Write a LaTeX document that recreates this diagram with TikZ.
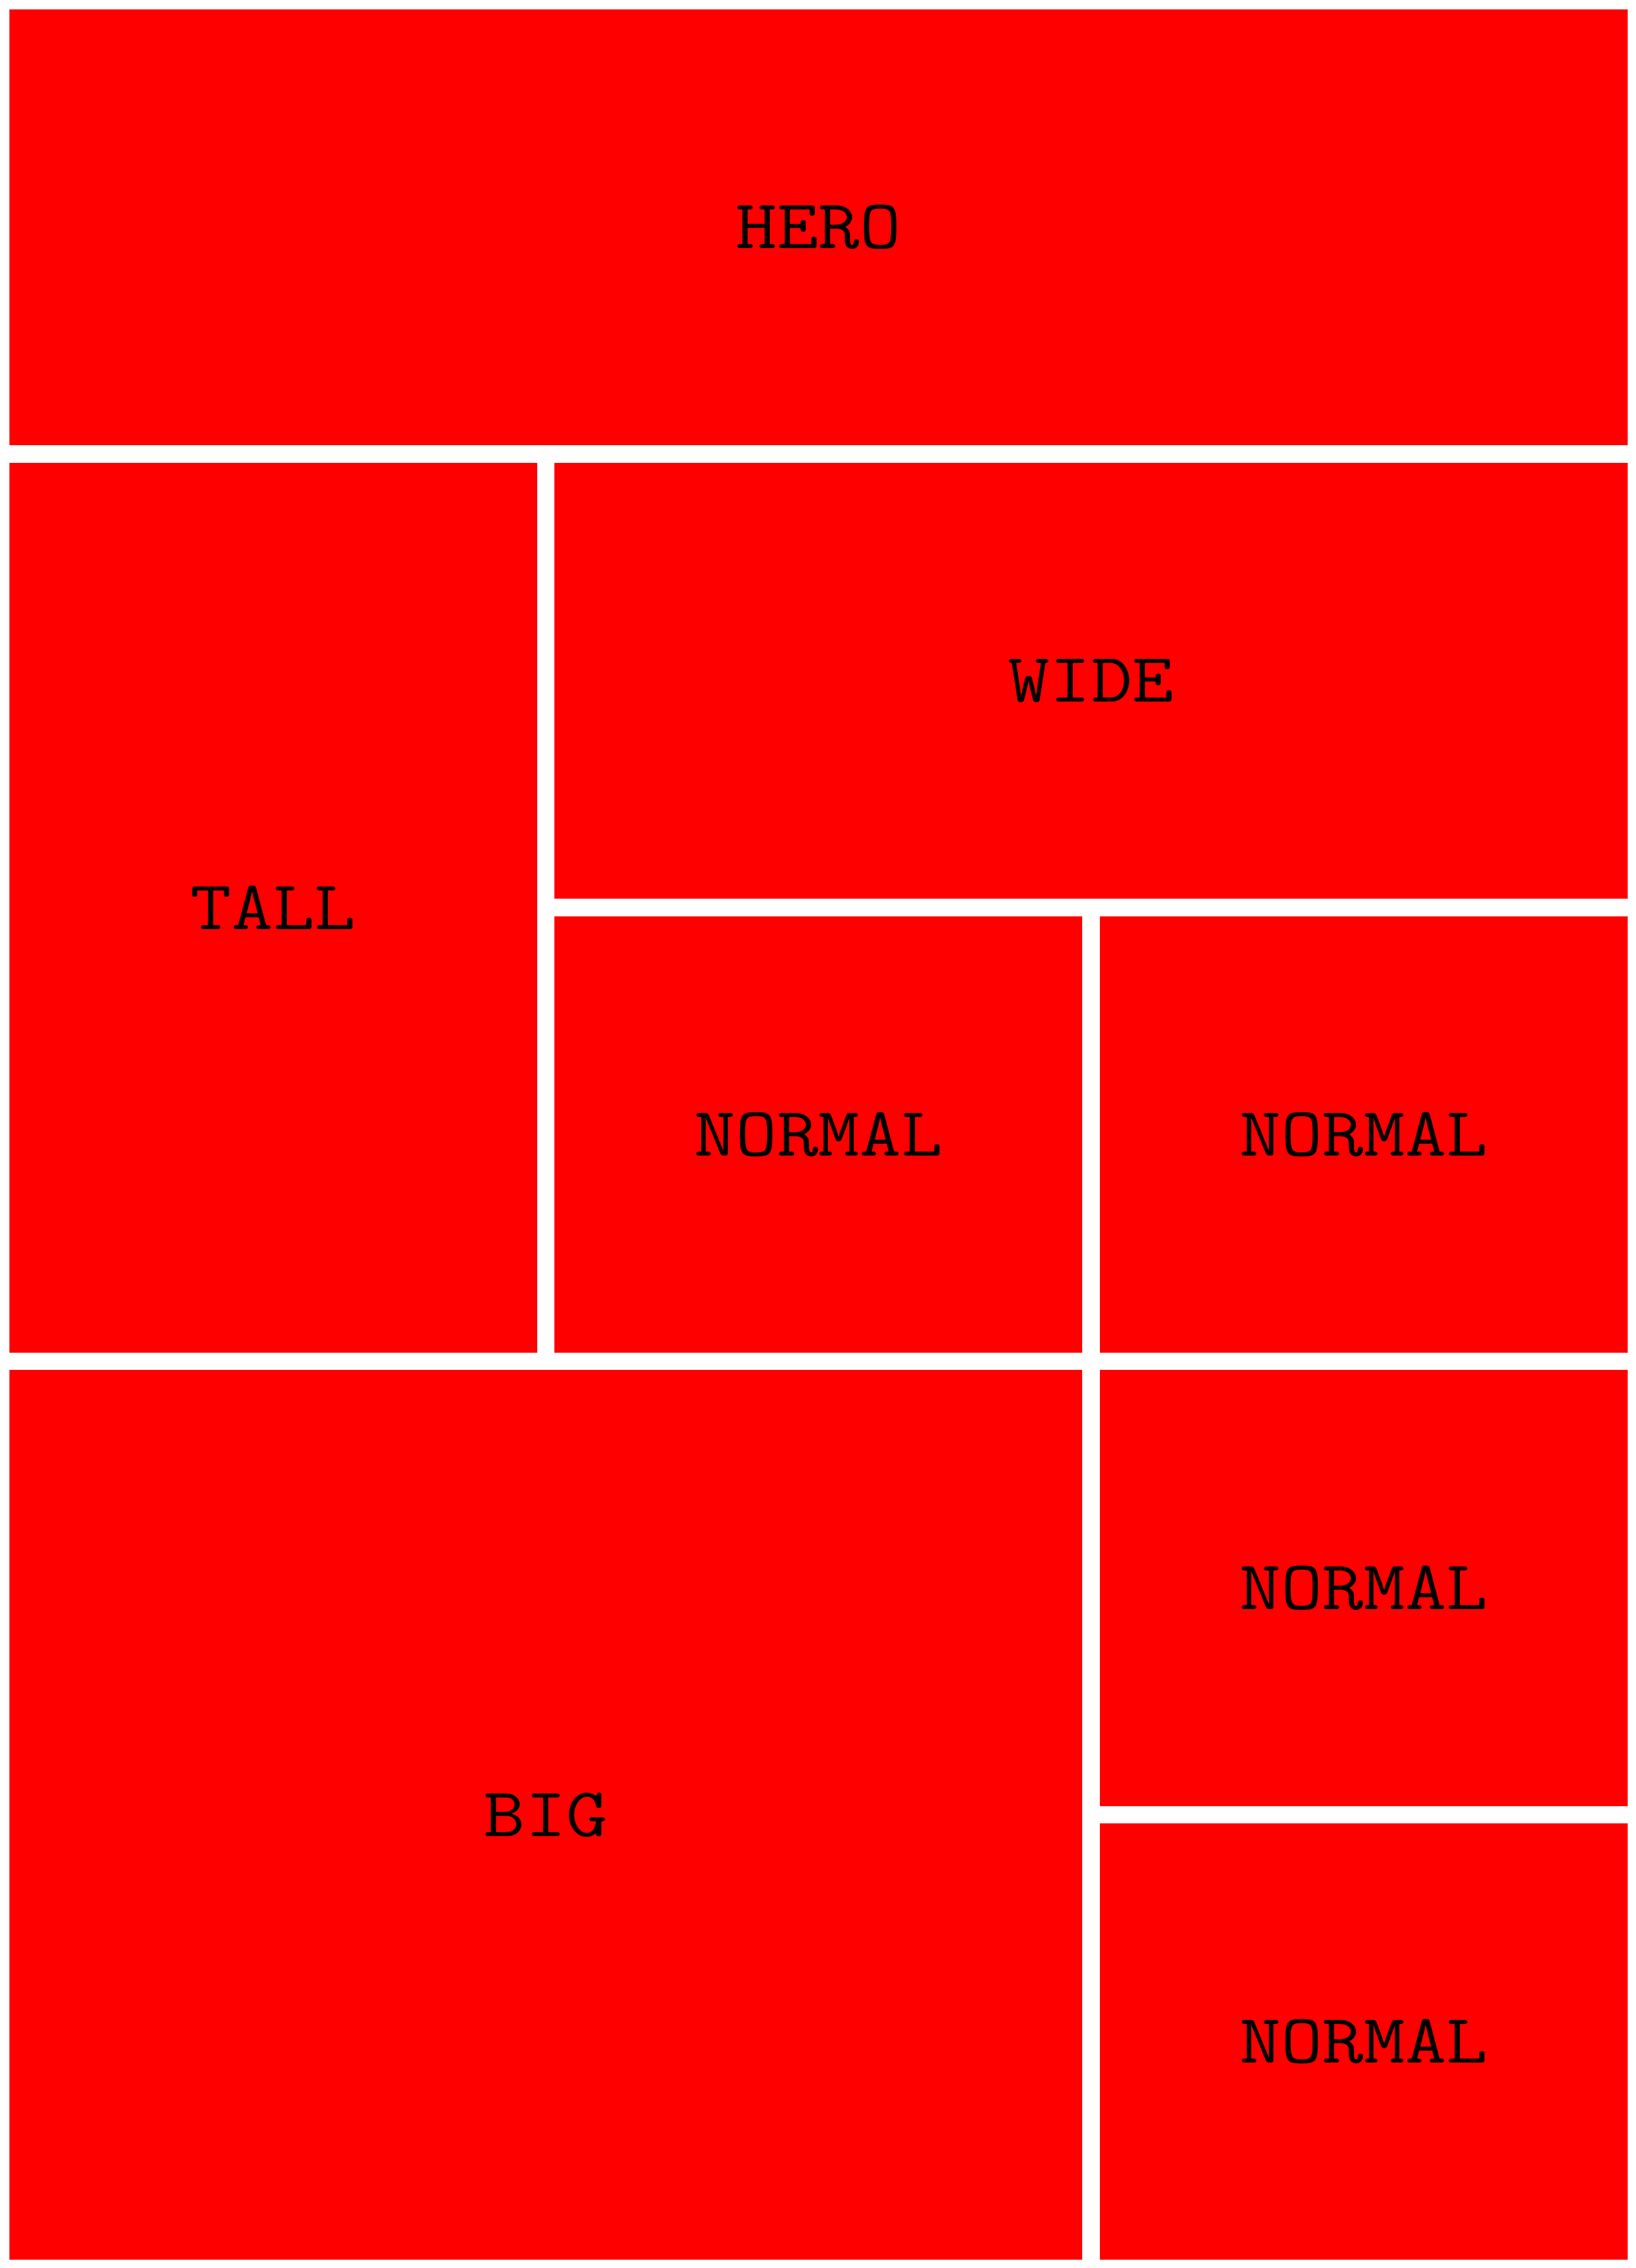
\documentclass[tikz,border=0pt]{standalone}
\usepackage{fontspec}
\setmonofont{Latin Modern Mono}[FakeStretch=1.15]
\usepackage{tikz}

\begin{document}
\begin{tikzpicture}[
    x=1pt, y=-1pt,
    tile/.style={
        fill=red,
        draw=none,
        anchor=north west,
        inner sep=0pt,
        font=\ttfamily\fontsize{32}{38}\selectfont
    },
    one/.style={minimum width=242pt},
    two/.style={minimum width=492pt},
    three/.style={minimum width=742pt},
    short/.style={minimum height=200pt},
    long/.style={minimum height=408pt}
]

\useasboundingbox (0,0) rectangle (750,1040);

% Top row
\node[tile, three, short] (hero) at (4,4) {HERO};

% Middle rows
\node[tile, one, long] (tall) at (4,212) {TALL};
\node[tile, two, short] (wide) at (254,212) {WIDE};
\node[tile, one, short] (normA) at (254,420) {NORMAL};
\node[tile, one, short] (normB) at (504,420) {NORMAL};

% Bottom rows
\node[tile, two, long] (big) at (4,628) {BIG};
\node[tile, one, short] (normC) at (504,628) {NORMAL};
\node[tile, one, short] (normD) at (504,836) {NORMAL};

\end{tikzpicture}
\end{document}
